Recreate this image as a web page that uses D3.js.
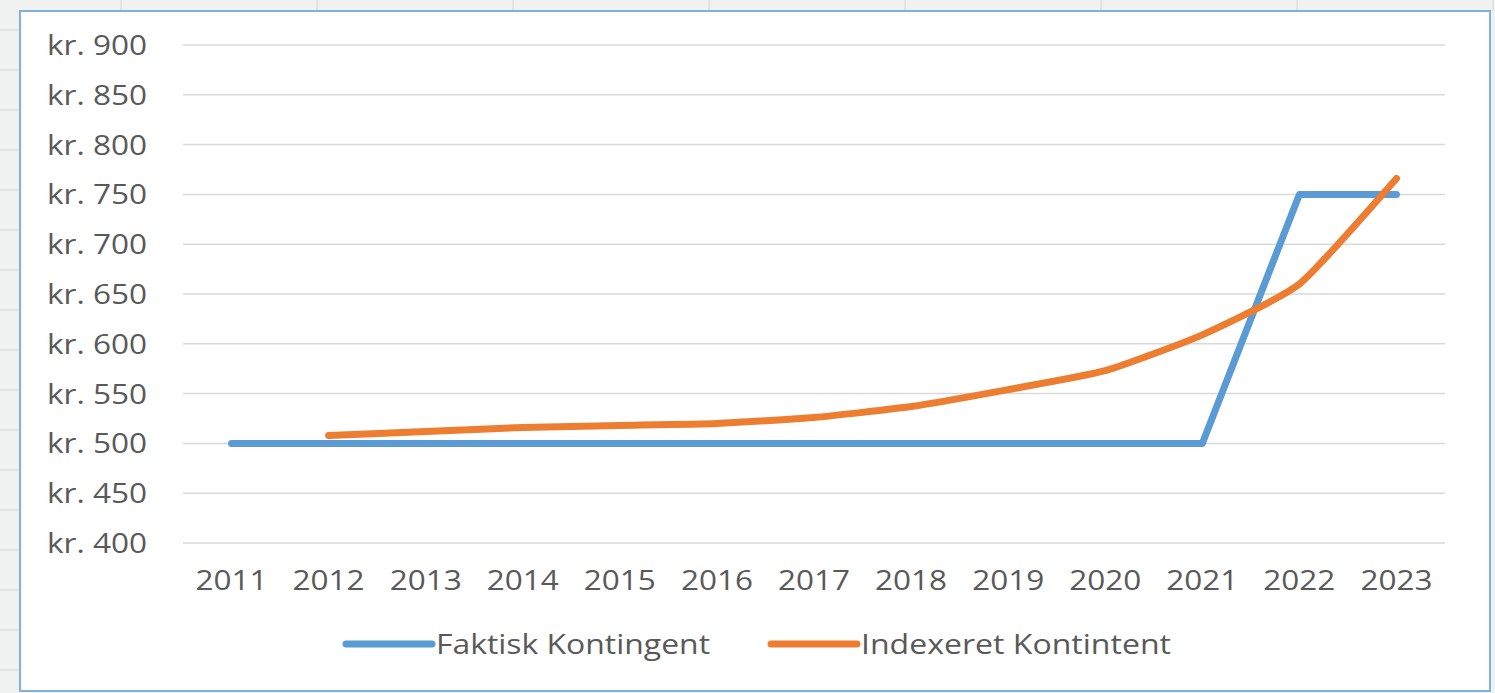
<!DOCTYPE html>
<html>
<head>
	<meta http-equiv="Content-Type" content="text/html;charset=utf-8">
	<title>Kontingent</title>
	<script src="https://d3js.org/d3.v7.min.js"></script>
	<style type="text/css">
		body { margin: 0; background: #f0f1f1; }
		text { font-family: "Open Sans", sans-serif; fill: #595959; }
	</style>
</head>
<body>
	<svg width="1495" height="693"></svg>

	<script type="text/javascript">
		var years = [2011, 2012, 2013, 2014, 2015, 2016, 2017, 2018, 2019, 2020, 2021, 2022, 2023];
		var faktisk = [500, 500, 500, 500, 500, 500, 500, 500, 500, 500, 500, 750, 750];
		var indexeret = [null, 508, 512, 516, 518, 520, 526, 537, 554, 573, 609, 660, 766];
		var yTicks = [400, 450, 500, 550, 600, 650, 700, 750, 800, 850, 900];
		var seriesNames = ["Faktisk Kontingent", "Indexeret Kontintent"];
		var colors = ["#5b9bd5", "#ed7d31"];

		var svg = d3.select("svg");

		// spreadsheet cells behind the chart
		svg.selectAll("line.cellv").data(d3.range(121, 1495, 196)).enter().append("line")
			.attr("x1", d => d).attr("x2", d => d).attr("y1", 0).attr("y2", 11)
			.attr("stroke", "#d4d4d4");
		svg.selectAll("line.cellh").data(d3.range(30, 693, 40)).enter().append("line")
			.attr("x1", 0).attr("x2", 20).attr("y1", d => d).attr("y2", d => d)
			.attr("stroke", "#d4d4d4");

		// chart area
		svg.append("rect").attr("x", 20).attr("y", 11).attr("width", 1470).attr("height", 680)
			.attr("fill", "white").attr("stroke", "#7fb0e0").attr("stroke-width", 2);

		var x = d3.scaleBand().domain(years).range([183, 1445]);
		var y = d3.scaleLinear().domain([400, 900]).range([543, 45]);

		svg.append("g").selectAll("line").data(yTicks).enter().append("line")
			.attr("x1", 183).attr("x2", 1445)
			.attr("y1", d => y(d)).attr("y2", d => y(d))
			.attr("stroke", "#d9d9d9").attr("stroke-width", 1.5);

		svg.append("g").selectAll("text").data(yTicks).enter().append("text")
			.attr("x", 147).attr("y", d => y(d)).attr("dy", "0.36em")
			.attr("text-anchor", "end").style("font-size", "28px")
			.attr("textLength", 100).attr("lengthAdjust", "spacingAndGlyphs")
			.text(d => "kr. " + d);

		svg.append("g").selectAll("text").data(years).enter().append("text")
			.attr("x", d => x(d) + x.bandwidth() / 2).attr("y", 580).attr("dy", "0.36em")
			.attr("text-anchor", "middle").style("font-size", "28px")
			.attr("textLength", 72).attr("lengthAdjust", "spacingAndGlyphs")
			.text(d => d);

		var cx = d => x(d) + x.bandwidth() / 2;

		var line1 = d3.line()
			.x((d, i) => cx(years[i])).y(d => y(d));
		svg.append("path").datum(faktisk)
			.attr("d", line1)
			.attr("fill", "none").attr("stroke", colors[0]).attr("stroke-width", 7)
			.attr("stroke-linecap", "round").attr("stroke-linejoin", "round");

		var line2 = d3.line()
			.defined(d => d != null)
			.x((d, i) => cx(years[i])).y(d => y(d))
			.curve(d3.curveCardinal.tension(0.5));
		svg.append("path").datum(indexeret)
			.attr("d", line2)
			.attr("fill", "none").attr("stroke", colors[1]).attr("stroke-width", 7)
			.attr("stroke-linecap", "round").attr("stroke-linejoin", "round");

		// legend
		var legendX = [346, 771];
		var legendW = [274, 310];
		var leg = svg.append("g").selectAll("g").data(seriesNames).enter().append("g");
		leg.append("line")
			.attr("x1", (d, i) => legendX[i]).attr("x2", (d, i) => legendX[i] + 86)
			.attr("y1", 644).attr("y2", 644)
			.attr("stroke", (d, i) => colors[i]).attr("stroke-width", 7)
			.attr("stroke-linecap", "round");
		leg.append("text")
			.attr("x", (d, i) => legendX[i] + 90).attr("y", 644).attr("dy", "0.36em")
			.attr("textLength", (d, i) => legendW[i]).attr("lengthAdjust", "spacingAndGlyphs")
			.style("font-size", "27px")
			.text(d => d);
	</script>
</body>
</html>
